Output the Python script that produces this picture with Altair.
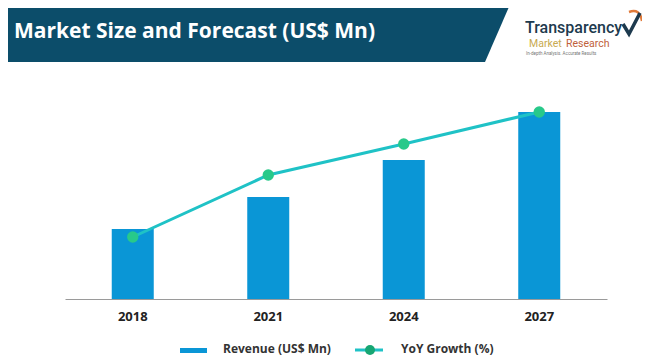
import altair as alt
import pandas as pd

years = ["2018", "2021", "2024", "2027"]
revenue = [350, 510, 695, 935]
yoy_growth = [6.2, 12.4, 15.5, 18.7]

title_text = "Market Size and Forecast (US$ Mn)"
legend_labels = ["Revenue (US$ Mn)", "YoY Growth (%)"]

df = pd.DataFrame({"year": years, "revenue": revenue, "yoy": yoy_growth})
deco = pd.DataFrame({"a": [0]})

BAR = "#0a96d6"
LINE = "#1fc2c6"
PT = "#28c98a"
BAND = "#0c4d6a"
FONT = "Open Sans"

xscale = alt.Scale(paddingInner=0.69, paddingOuter=0.345)
xaxis = alt.Axis(title=None, labelAngle=0, ticks=False, domainColor="#9a9a9a",
                 labelFont=FONT, labelFontWeight="bold", labelFontSize=13,
                 labelColor="#222222", labelPadding=11, grid=False)

bars = alt.Chart(df).mark_bar(color=BAR).encode(
    x=alt.X("year:N", scale=xscale, axis=xaxis, sort=years),
    y=alt.Y("revenue:Q", scale=alt.Scale(domain=[0, 1000]), axis=None),
)

line = alt.Chart(df).mark_line(color=LINE, strokeWidth=3).encode(
    x=alt.X("year:N", sort=years),
    y=alt.Y("yoy:Q", scale=alt.Scale(domain=[0, 20]), axis=None),
)
points = alt.Chart(df).mark_circle(color=PT, size=130, opacity=1).encode(
    x=alt.X("year:N", sort=years),
    y=alt.Y("yoy:Q", scale=alt.Scale(domain=[0, 20]), axis=None),
)

band_path = "M-57,-91 L443.5,-91 L420,-37 L-57,-37 Z"
header = alt.Chart(deco).mark_point(shape=band_path, size=4, filled=True, fill=BAND,
                                    opacity=1, strokeWidth=0).encode(
    x=alt.value(0), y=alt.value(0))

title = alt.Chart(deco).mark_text(text=title_text, font=FONT, fontWeight="bold", fontSize=21,
                                  color="white", align="left", baseline="alphabetic").encode(
    x=alt.value(-51), y=alt.value(-61))

logo1 = alt.Chart(deco).mark_text(text="Transparency", font="Roboto", fontSize=16, fontWeight=500,
                                  color="#1d3a4e", align="left", baseline="alphabetic").encode(
    x=alt.value(460), y=alt.value(-66))
logo2 = alt.Chart(deco).mark_text(text="Market", font="Roboto", fontSize=10.5,
                                  color="#c8aa50", align="left", baseline="alphabetic").encode(
    x=alt.value(464), y=alt.value(-52))
logo3 = alt.Chart(deco).mark_text(text="Research", font="Roboto", fontSize=10.5,
                                  color="#c0603a", align="left", baseline="alphabetic").encode(
    x=alt.value(501), y=alt.value(-52))
logo4 = alt.Chart(deco).mark_text(text="In-depth Analysis. Accurate Results", font="Roboto", fontSize=4.5,
                                  color="#777777", align="left", baseline="middle").encode(
    x=alt.value(461), y=alt.value(-45))
check_swoosh = alt.Chart(deco).mark_point(shape="M-3,-15 Q8,-19 10,-6", size=4, filled=False,
                                          stroke="#e07a3a", strokeWidth=2.5, opacity=1).encode(
    x=alt.value(567), y=alt.value(-72))
check = alt.Chart(deco).mark_point(shape="M-9,-3 L-3,7 L8,-14", size=4, filled=False,
                                   stroke="#1d3a4e", strokeWidth=3.5, opacity=1).encode(
    x=alt.value(567), y=alt.value(-72))

leg_rect = alt.Chart(deco).mark_rect(color=BAR).encode(
    x=alt.value(115), x2=alt.value(142), y=alt.value(249), y2=alt.value(254))
leg_t1 = alt.Chart(deco).mark_text(text=legend_labels[0], font=FONT, fontWeight="bold", fontSize=12,
                                   color="#333333", align="left", baseline="middle").encode(
    x=alt.value(158), y=alt.value(249.5))
leg_line = alt.Chart(deco).mark_rule(color=LINE, strokeWidth=3).encode(
    x=alt.value(290), x2=alt.value(318), y=alt.value(251))
leg_pt = alt.Chart(deco).mark_circle(color="#17a673", size=100, opacity=1).encode(
    x=alt.value(305), y=alt.value(251))
leg_t2 = alt.Chart(deco).mark_text(text=legend_labels[1], font=FONT, fontWeight="bold", fontSize=12,
                                   color="#333333", align="left", baseline="middle").encode(
    x=alt.value(336), y=alt.value(249.5))

chart = alt.layer(
    header, title, logo1, logo2, logo3, logo4, check_swoosh, check,
    bars, line, points,
    leg_rect, leg_t1, leg_line, leg_pt, leg_t2,
).resolve_scale(y="independent").properties(
    width=542, height=200,
    autosize=alt.AutoSizeParams(type="none"),
    padding={"left": 57, "top": 91, "right": 35, "bottom": 56},
    background="white",
).configure_view(stroke=None)

chart.save("out.html", embed_options={"renderer": "svg", "actions": False})
